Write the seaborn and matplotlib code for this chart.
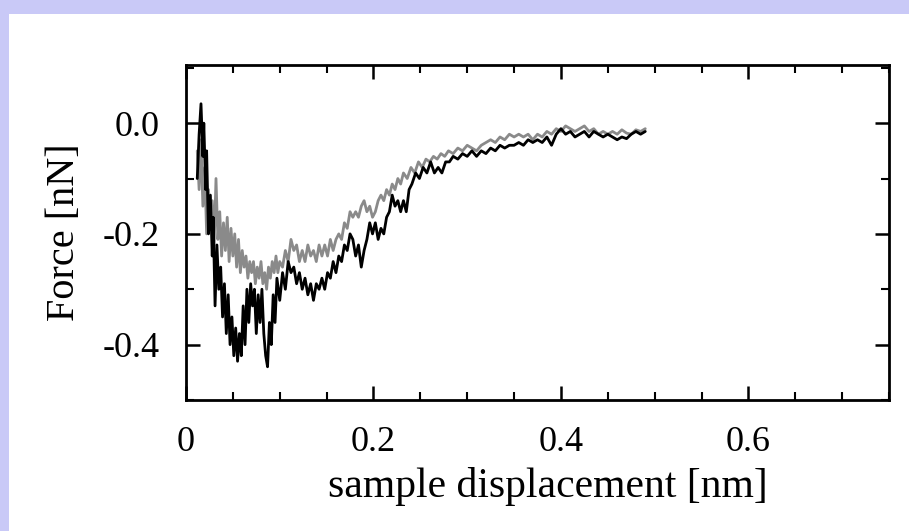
import numpy as np
import pandas as pd
import matplotlib
matplotlib.use("Agg")
import matplotlib.pyplot as plt
from matplotlib.patches import Rectangle
from matplotlib.ticker import MultipleLocator
import seaborn as sns

# black trace (sample displacement [nm], force [nN])
black_x = [0.012, 0.014, 0.016, 0.018, 0.019, 0.021, 0.022, 0.024, 0.026, 0.028,
           0.029, 0.031, 0.033, 0.035, 0.037, 0.039, 0.041, 0.043, 0.045, 0.047,
           0.049, 0.051, 0.053, 0.055, 0.057, 0.059, 0.061, 0.063, 0.065, 0.067,
           0.069, 0.071, 0.073, 0.075, 0.077, 0.079, 0.081, 0.083, 0.085, 0.087,
           0.089, 0.091, 0.093, 0.095, 0.097, 0.100, 0.103, 0.106, 0.109, 0.112,
           0.115, 0.118, 0.121, 0.124, 0.127, 0.130, 0.133, 0.136, 0.139, 0.142,
           0.145, 0.148, 0.151, 0.154, 0.157, 0.160, 0.163, 0.166, 0.169, 0.172,
           0.175, 0.178, 0.181, 0.184, 0.187, 0.190, 0.193, 0.196, 0.199, 0.202,
           0.205, 0.208, 0.211, 0.214, 0.217, 0.220, 0.223, 0.226, 0.229, 0.232,
           0.235, 0.238, 0.241, 0.245, 0.249, 0.253, 0.257, 0.261, 0.265, 0.269,
           0.273, 0.277, 0.281, 0.285, 0.290, 0.295, 0.300, 0.305, 0.310, 0.315,
           0.320, 0.325, 0.330, 0.335, 0.340, 0.345, 0.350, 0.355, 0.360, 0.365,
           0.370, 0.375, 0.380, 0.385, 0.390, 0.395, 0.400, 0.405, 0.410, 0.415,
           0.420, 0.425, 0.430, 0.435, 0.440, 0.445, 0.450, 0.455, 0.460, 0.465,
           0.470, 0.475, 0.480, 0.485, 0.490]
black_y = [-0.10, -0.02, 0.035, -0.06, 0.00, -0.12, -0.05, -0.20, -0.13, -0.24,
           -0.17, -0.33, -0.22, -0.30, -0.26, -0.35, -0.29, -0.38, -0.31, -0.40,
           -0.35, -0.42, -0.37, -0.43, -0.38, -0.42, -0.33, -0.40, -0.30, -0.36,
           -0.29, -0.33, -0.30, -0.38, -0.31, -0.36, -0.30, -0.38, -0.42, -0.44,
           -0.36, -0.40, -0.31, -0.36, -0.28, -0.32, -0.27, -0.30, -0.25, -0.27,
           -0.26, -0.29, -0.27, -0.30, -0.28, -0.31, -0.29, -0.32, -0.29, -0.30,
           -0.28, -0.30, -0.27, -0.28, -0.25, -0.27, -0.24, -0.25, -0.22, -0.23,
           -0.20, -0.21, -0.24, -0.22, -0.26, -0.23, -0.21, -0.18, -0.20, -0.18,
           -0.21, -0.19, -0.20, -0.17, -0.16, -0.13, -0.15, -0.14, -0.16, -0.14,
           -0.16, -0.12, -0.11, -0.09, -0.10, -0.08, -0.09, -0.07, -0.09, -0.08,
           -0.09, -0.07, -0.07, -0.06, -0.065, -0.055, -0.06, -0.05, -0.06, -0.05,
           -0.055, -0.045, -0.05, -0.04, -0.045, -0.04, -0.04, -0.035, -0.04, -0.03,
           -0.035, -0.03, -0.035, -0.025, -0.04, -0.02, -0.01, -0.02, -0.015, -0.025,
           -0.02, -0.015, -0.025, -0.015, -0.02, -0.025, -0.02, -0.025, -0.03, -0.025,
           -0.028, -0.02, -0.015, -0.02, -0.015]

# gray trace
gray_x = [0.012, 0.014, 0.016, 0.018, 0.020, 0.022, 0.024, 0.026, 0.028, 0.030,
          0.032, 0.034, 0.036, 0.038, 0.040, 0.042, 0.044, 0.046, 0.048, 0.050,
          0.052, 0.054, 0.056, 0.058, 0.060, 0.062, 0.064, 0.066, 0.068, 0.070,
          0.072, 0.074, 0.076, 0.078, 0.080, 0.082, 0.084, 0.086, 0.088, 0.090,
          0.092, 0.094, 0.096, 0.098, 0.100, 0.103, 0.106, 0.109, 0.112, 0.115,
          0.118, 0.121, 0.124, 0.127, 0.130, 0.133, 0.136, 0.139, 0.142, 0.145,
          0.148, 0.151, 0.154, 0.157, 0.160, 0.163, 0.166, 0.169, 0.172, 0.175,
          0.178, 0.181, 0.184, 0.187, 0.190, 0.193, 0.196, 0.199, 0.202, 0.205,
          0.208, 0.211, 0.214, 0.217, 0.220, 0.223, 0.226, 0.229, 0.232, 0.236,
          0.240, 0.244, 0.248, 0.252, 0.256, 0.260, 0.264, 0.268, 0.272, 0.276,
          0.280, 0.285, 0.290, 0.295, 0.300, 0.305, 0.310, 0.315, 0.320, 0.325,
          0.330, 0.335, 0.340, 0.345, 0.350, 0.355, 0.360, 0.365, 0.370, 0.375,
          0.380, 0.385, 0.390, 0.395, 0.400, 0.405, 0.410, 0.415, 0.420, 0.425,
          0.430, 0.435, 0.440, 0.445, 0.450, 0.455, 0.460, 0.465, 0.470, 0.475,
          0.480, 0.485, 0.490]
gray_y = [-0.05, -0.12, -0.03, -0.15, -0.08, -0.20, -0.12, -0.19, -0.14, -0.22,
          -0.10, -0.21, -0.16, -0.24, -0.18, -0.23, -0.17, -0.25, -0.19, -0.24,
          -0.20, -0.26, -0.21, -0.27, -0.23, -0.26, -0.24, -0.28, -0.25, -0.27,
          -0.25, -0.29, -0.26, -0.28, -0.25, -0.29, -0.27, -0.30, -0.26, -0.28,
          -0.25, -0.27, -0.24, -0.27, -0.25, -0.26, -0.23, -0.25, -0.21, -0.23,
          -0.22, -0.25, -0.23, -0.25, -0.22, -0.24, -0.23, -0.25, -0.22, -0.24,
          -0.22, -0.24, -0.21, -0.23, -0.21, -0.20, -0.21, -0.18, -0.19, -0.16,
          -0.17, -0.16, -0.17, -0.15, -0.14, -0.16, -0.15, -0.17, -0.16, -0.14,
          -0.13, -0.14, -0.12, -0.13, -0.11, -0.12, -0.10, -0.11, -0.09, -0.10,
          -0.08, -0.09, -0.07, -0.08, -0.065, -0.07, -0.06, -0.065, -0.055, -0.06,
          -0.05, -0.055, -0.045, -0.05, -0.04, -0.045, -0.05, -0.04, -0.035, -0.03,
          -0.035, -0.025, -0.03, -0.02, -0.025, -0.02, -0.025, -0.02, -0.03, -0.02,
          -0.025, -0.015, -0.02, -0.01, -0.015, -0.005, -0.01, -0.015, -0.01, -0.005,
          -0.015, -0.01, -0.02, -0.015, -0.02, -0.015, -0.02, -0.012, -0.018, -0.02,
          -0.012, -0.015, -0.01]

x_ticks = [0, 0.2, 0.4, 0.6]
x_tick_labels = ["0", "0.2", "0.4", "0.6"]
y_ticks = [0.0, -0.2, -0.4]
y_tick_labels = ["0.0", "-0.2", "-0.4"]

df = pd.concat([
    pd.DataFrame({"x": gray_x, "y": gray_y, "trace": "gray"}),
    pd.DataFrame({"x": black_x, "y": black_y, "trace": "black"}),
], ignore_index=True)

sns.set_theme(style="ticks")
plt.rcParams["font.family"] = ["Liberation Serif", "DejaVu Serif"]

fig = plt.figure(figsize=(9.09, 5.31), dpi=100)
fig.patch.set_facecolor("#c9c9f7")
# white slide panel
fig.add_artist(Rectangle((9 / 909, 0), 1, 1 - 14 / 531, transform=fig.transFigure,
                         facecolor="white", edgecolor="none", zorder=0))

ax = fig.add_axes([186 / 909, 1 - 400 / 531, (889 - 186) / 909, (400 - 65) / 531])
ax.set_facecolor("white")

sns.lineplot(data=df, x="x", y="y", hue="trace", units="trace", estimator=None,
             sort=False, palette={"gray": "#8a8a8a", "black": "#000000"},
             linewidth=2.0, legend=False, ax=ax)

ax.set_xlim(0, 0.75)
ax.set_ylim(-0.5, 0.105)
ax.set_xticks(x_ticks)
ax.set_xticklabels(x_tick_labels)
ax.set_yticks(y_ticks)
ax.set_yticklabels(y_tick_labels)
ax.xaxis.set_minor_locator(MultipleLocator(0.05))
ax.yaxis.set_minor_locator(MultipleLocator(0.1))

for s in ax.spines.values():
    s.set_visible(True)
    s.set_linewidth(2)
    s.set_color("black")

ax.tick_params(which="both", direction="in", top=True, right=True, color="black")
ax.tick_params(which="major", length=10, width=1.8, labelsize=26, pad=19, colors="black")
ax.tick_params(which="minor", length=6, width=1.5)

ax.set_xlabel("sample displacement [nm]", fontsize=30, labelpad=8, color="black")
ax.set_ylabel("Force [nN]", fontsize=29, labelpad=14, color="black")
ax.xaxis.set_label_coords(0.515, -0.2, transform=ax.transAxes)
ax.xaxis.label.set_va("top")

fig.savefig("out.png", dpi=100, facecolor=fig.get_facecolor())
